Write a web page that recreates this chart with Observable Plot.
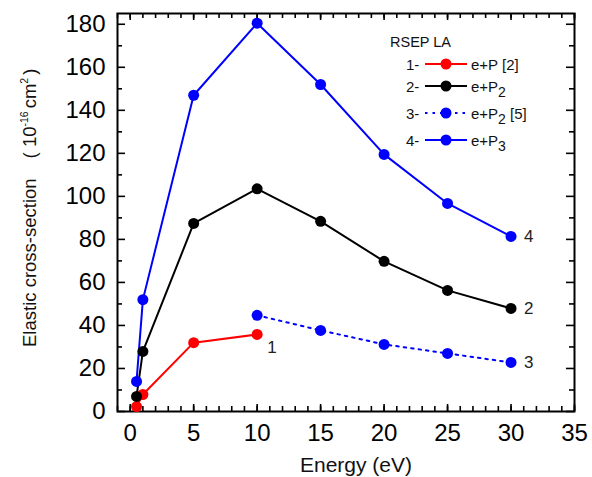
<!DOCTYPE html>
<html>
<head>
<meta charset="utf-8">
<script src="https://cdn.jsdelivr.net/npm/d3@7"></script>
<script src="https://cdn.jsdelivr.net/npm/@observablehq/plot@0.6"></script>
<style>
  html, body { margin: 0; padding: 0; background: white; }
  #chart svg { display: block; }
</style>
</head>
<body>
<div id="chart"></div>
<script>
// ---- data ----
const energyAll = [0.5, 1, 5, 10, 15, 20, 25, 30];
const energyEP = [0.5, 1, 5, 10];
const energyRef5 = [10, 15, 20, 25, 30];
const valuesEP = [2.3, 7.9, 32, 35.8];                         // 1- e+P [2]
const valuesEP2 = [7, 27.9, 87.4, 103.5, 88.4, 69.8, 56.3, 47.9]; // 2- e+P2
const valuesEP2ref5 = [44.7, 37.7, 31.2, 27, 22.8];              // 3- e+P2 [5]
const valuesEP3 = [14, 52, 147, 180.5, 152, 119.5, 96.7, 81.4];   // 4- e+P3
const seriesIds = ["1", "2", "3", "4"];
const seriesColors = ["#ff0000", "#000000", "#0000ff", "#0000ff"];
const xMajorTicks = [0, 5, 10, 15, 20, 25, 30, 35];
const xMinorTicks = d3.range(-1, 36, 1);
const yMajorTicks = [0, 20, 40, 60, 80, 100, 120, 140, 160, 180];
const yMinorTicks = d3.range(10, 185, 20);

const toRows = (xs, ys, id) => xs.map((x, i) => ({x, y: ys[i], id}));
const s1 = toRows(energyEP, valuesEP, "1");
const s2 = toRows(energyAll, valuesEP2, "2");
const s3 = toRows(energyRef5, valuesEP2ref5, "3");
const s4 = toRows(energyAll, valuesEP3, "4");
const series = [s1, s2, s3, s4];
const endLabels = series.map(s => s[s.length - 1]);

const FONT = "'Liberation Sans', Arial, Helvetica, sans-serif";

const W = 592, H = 477, ML = 117, MR = 18, MT = 13, MB = 66;
const plotW = W - ML - MR, plotH = H - MT - MB;

const lineMark = (data, i, dash) => Plot.line(data, {x: "x", y: "y", stroke: seriesColors[i], strokeWidth: 2, strokeDasharray: dash});
const dotMark = (data, i) => Plot.dot(data, {x: "x", y: "y", r: 5.5, fill: seriesColors[i], stroke: "none"});

// inward ticks drawn along the frame edges
const TICK = "black";
const ticksBottom = (t, len) => Plot.tickX(t, {x: d => d, insetTop: plotH - len, stroke: TICK, strokeWidth: 1.6});
const ticksTop = (t, len) => Plot.tickX(t, {x: d => d, insetBottom: plotH - len, stroke: TICK, strokeWidth: 1.6});
const ticksLeft = (t, len) => Plot.tickY(t, {y: d => d, insetRight: plotW - len, stroke: TICK, strokeWidth: 1.6});
const ticksRight = (t, len) => Plot.tickY(t, {y: d => d, insetLeft: plotW - len, stroke: TICK, strokeWidth: 1.6});

const svg = Plot.plot({
  width: W,
  height: H,
  marginLeft: ML,
  marginRight: MR,
  marginTop: MT,
  marginBottom: MB,
  x: {domain: [-1, 35]},
  y: {domain: [0, 185]},
  style: {fontFamily: FONT, background: "white", color: "black", overflow: "visible"},
  marks: [
    Plot.axisX({anchor: "bottom", ticks: xMajorTicks, tickSize: 0, tickPadding: 12, fontSize: 24, label: null, tickFormat: d => String(d)}),
    Plot.axisY({anchor: "left", ticks: yMajorTicks, tickSize: 0, tickPadding: 12, fontSize: 24, label: null, tickFormat: d => String(d)}),
    ticksBottom(xMajorTicks, 7), ticksBottom(xMinorTicks, 5),
    ticksTop(xMajorTicks, 7), ticksTop(xMinorTicks, 5),
    ticksLeft(yMajorTicks, 8), ticksLeft(yMinorTicks, 5),
    ticksRight(yMajorTicks, 8), ticksRight(yMinorTicks, 5),
    Plot.frame({stroke: "black", strokeWidth: 2}),
    lineMark(s1, 0, null),
    lineMark(s2, 1, null),
    lineMark(s3, 2, "2.5,5"),
    lineMark(s4, 3, null),
    dotMark(s1, 0),
    dotMark(s2, 1),
    dotMark(s3, 2),
    dotMark(s4, 3),
    Plot.text(endLabels.slice(0, 1), {x: "x", y: "y", text: "id", dx: 10, dy: 13, fontSize: 17, fill: "#222", textAnchor: "start"}),
    Plot.text(endLabels.slice(1), {x: "x", y: "y", text: "id", dx: 13, fontSize: 17, fill: "#222", textAnchor: "start"})
  ]
});

document.getElementById("chart").appendChild(svg);

// ---- axis titles and legend (text) ----
const root = d3.select(svg);

root.append("text")
  .attr("x", 356).attr("y", 472)
  .attr("text-anchor", "middle")
  .attr("font-family", FONT).attr("font-size", 21).attr("fill", "#111")
  .text("Energy (eV)");

const yt = root.append("text")
  .attr("transform", "translate(36,347) rotate(-90)")
  .attr("text-anchor", "start")
  .attr("font-family", FONT).attr("font-size", 18.5).attr("fill", "#111");
yt.append("tspan").text("Elastic cross-section");
yt.append("tspan").attr("dx", 20).text("( 10");
yt.append("tspan").attr("dy", -8).attr("font-size", 10.5).text("-16");
yt.append("tspan").attr("dy", 8).attr("dx", 3).text("cm");
yt.append("tspan").attr("dy", -8).attr("font-size", 10.5).text("2");
yt.append("tspan").attr("dy", 8).attr("dx", 3).text(")");

// legend
const legendTitle = "RSEP LA";
const legendNames = [
  [["e+P [2]", false]],
  [["e+P", false], ["2", true]],
  [["e+P", false], ["2", true], [" [5]", false]],
  [["e+P", false], ["3", true]]
];
const legendDash = [null, null, "2.5,5", null];
const legendY = [64, 86, 113, 140];

const lg = root.append("g").attr("font-family", FONT).attr("fill", "#111").attr("text-anchor", "start");
lg.append("text").attr("x", 390).attr("y", 47).attr("font-size", 14.5).text(legendTitle);
legendNames.forEach((parts, i) => {
  const cy = legendY[i];
  lg.append("text").attr("x", 406).attr("y", cy + 5.5).attr("font-size", 15).text(seriesIds[i] + "-");
  lg.append("line").attr("x1", 425).attr("x2", 467).attr("y1", cy).attr("y2", cy)
    .attr("stroke", seriesColors[i]).attr("stroke-width", 2)
    .attr("stroke-dasharray", legendDash[i]);
  lg.append("circle").attr("cx", 446).attr("cy", cy).attr("r", 5.5).attr("fill", seriesColors[i]);
  const t = lg.append("text").attr("x", 471).attr("y", cy + 5.5).attr("font-size", 15);
  let sub = false;
  parts.forEach(([txt, isSub]) => {
    const ts = t.append("tspan").text(txt);
    if (isSub && !sub) { ts.attr("dy", 5).attr("font-size", 14); sub = true; }
    else if (!isSub && sub) { ts.attr("dy", -5); sub = false; }
  });
});
</script>
</body>
</html>
